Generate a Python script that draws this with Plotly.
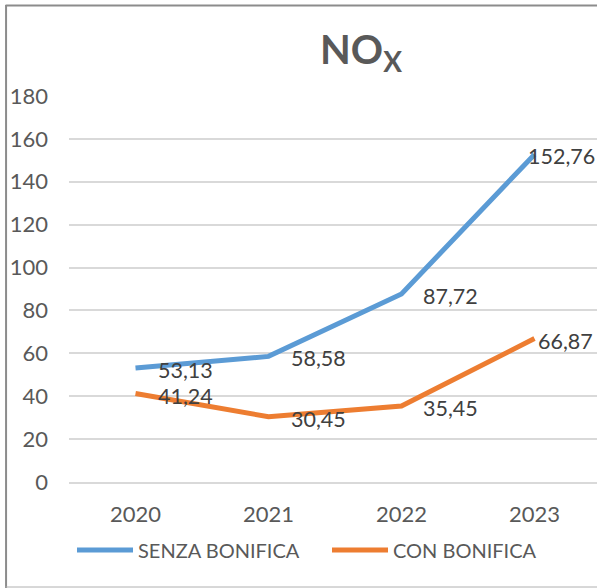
import plotly.graph_objects as go

years = ["2020", "2021", "2022", "2023"]
senza = [53.13, 58.58, 87.72, 152.76]
con = [41.24, 30.45, 35.45, 66.87]
senza_labels = ["53,13", "58,58", "87,72", "152,76"]
con_labels = ["41,24", "30,45", "35,45", "66,87"]
y_ticks = [0, 20, 40, 60, 80, 100, 120, 140, 160, 180]

FONT = "Lato"
W, H = 597, 588
L, R, T, B = 68.5, 0, 96, 106
pw = W - L - R
ph = H - T - B

fig = go.Figure()
fig.add_trace(go.Scatter(x=years, y=senza, mode="lines", name="SENZA BONIFICA",
                         line=dict(color="#5B9BD5", width=5), hoverinfo="y"))
fig.add_trace(go.Scatter(x=years, y=con, mode="lines", name="CON BONIFICA",
                         line=dict(color="#ED7D31", width=5), hoverinfo="y"))

senza_shift = [20, 20, 20, -8]
con_shift = [20, 20, 20, 2]
ann = []
for ys, labs, sh in [(senza, senza_labels, senza_shift), (con, con_labels, con_shift)]:
    for i, (y, t, s) in enumerate(zip(ys, labs, sh)):
        ann.append(dict(x=i, y=y, xref="x", yref="y", text=t, showarrow=False,
                        xanchor="left", yanchor="middle",
                        xshift=s, yshift=-2, font=dict(family=FONT, size=21.5, color="#404040")))

def px2x(px):
    return (px - L) / pw

def py2y(py):
    return (H - B - py) / ph

border = "#8c8c8c"
shapes = [
    dict(type="line", xref="paper", yref="paper", x0=px2x(5), x1=px2x(600), y0=py2y(5.5), y1=py2y(5.5),
         line=dict(color=border, width=2)),
    dict(type="line", xref="paper", yref="paper", x0=px2x(5.5), x1=px2x(5.5), y0=py2y(5), y1=py2y(588),
         line=dict(color=border, width=2)),
    dict(type="line", xref="paper", yref="paper", x0=px2x(5), x1=px2x(600), y0=py2y(587), y1=py2y(587),
         line=dict(color="#b0b0b0", width=1)),
]

fig.update_layout(
    width=W, height=H,
    margin=dict(l=L, r=R, t=T, b=B, pad=0, autoexpand=False),
    paper_bgcolor="white", plot_bgcolor="white",
    font=dict(family=FONT, color="#595959"),
    title=dict(text="<b>NO<sub>X</sub></b>", x=361 / W, xanchor="center", y=1 - 50 / H, yanchor="middle",
               xref="container", yref="container",
               font=dict(family=FONT, size=40, color="#595959")),
    xaxis=dict(type="category", range=[-0.5, 3.47], showgrid=False, showline=True, linecolor="#d9d9d9",
               linewidth=1.5, ticks="", tickfont=dict(family=FONT, size=22, color="#595959"),
               ticklabelstandoff=12, fixedrange=True),
    yaxis=dict(range=[0, 180], tickvals=y_ticks, showgrid=True, gridcolor="#d9d9d9", gridwidth=1.5,
               zeroline=False, showline=False, ticks="",
               tickfont=dict(family=FONT, size=22, color="#595959"), ticklabelstandoff=20,
               fixedrange=True),
    legend=dict(orientation="h", xref="container", yref="container", x=327 / W, xanchor="center",
                y=1 - 550 / H, yanchor="middle", font=dict(family=FONT, size=20, color="#595959"),
                itemwidth=56, entrywidth=184, bgcolor="rgba(0,0,0,0)"),
    annotations=ann,
    shapes=shapes,
    showlegend=True,
)

fig.write_html("out.html", config={"displayModeBar": False},
               post_script="document.body.style.margin='0px';")
